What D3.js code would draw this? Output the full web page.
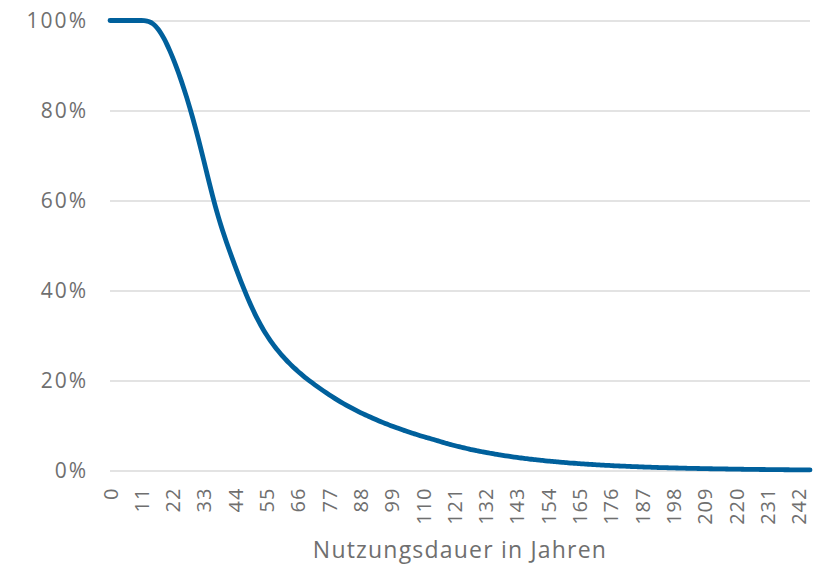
<!DOCTYPE html>
<html>
<head>
<meta charset="utf-8">
<script src="https://cdn.jsdelivr.net/npm/d3@7"></script>
<style>
  html, body { margin: 0; padding: 0; background: #ffffff; }
  svg { display: block; }
</style>
</head>
<body>
<svg id="chart" width="826" height="565"></svg>
<script>
// Nutzungsdauer in Jahren (categories 0 ... 246)
const years = d3.range(0, 247);

// Share still in use (%) for each year
const share = [
  100, 100, 100, 100, 100, 100, 100, 100, 100, 100, 100, 100,           // 0-11
  99.95, 99.85, 99.65, 99.3, 98.75, 98.0, 97.05, 95.95, 94.7,           // 12-20
  93.3, 91.8, 90.2, 88.5, 86.7, 84.8, 82.8, 80.7, 78.5, 76.2,           // 21-30
  73.8, 71.32, 68.77, 66.19, 63.63, 61.13, 58.75, 56.53, 54.45, 52.49,  // 31-40
  50.63, 48.84, 47.09, 45.37, 43.69, 42.05, 40.46, 38.92, 37.44, 36.03, // 41-50
  34.7, 33.45, 32.28, 31.19, 30.17, 29.21, 28.31, 27.46, 26.66, 25.9,   // 51-60
  25.18, 24.5, 23.85, 23.23, 22.64, 22.07, 21.52, 20.99, 20.48, 19.99,  // 61-70
  19.51, 19.04, 18.58, 18.13, 17.69, 17.26, 16.84, 16.43, 16.03, 15.64, // 71-80
  15.26, 14.89, 14.53, 14.18, 13.84, 13.51, 13.19, 12.88, 12.58, 12.29, // 81-90
  12.0, 11.72, 11.44, 11.17, 10.9, 10.64, 10.39, 10.14, 9.9, 9.66,      // 91-100
  9.43, 9.2, 8.98, 8.76, 8.55, 8.34, 8.14, 7.94, 7.74, 7.55,            // 101-110
  7.37, 7.19, 7.01, 6.83, 6.63, 6.44, 6.25, 6.07, 5.89, 5.72,           // 111-120
  5.55, 5.39, 5.24, 5.09, 4.94, 4.79, 4.66, 4.52, 4.39, 4.26,           // 121-130
  4.14, 4.02, 3.9, 3.79, 3.68, 3.57, 3.47, 3.37, 3.27, 3.17,            // 131-140
  3.08, 2.99, 2.9, 2.82, 2.74, 2.66, 2.58, 2.5, 2.43, 2.36,             // 141-150
  2.29, 2.23, 2.16, 2.1, 2.04, 1.98, 1.92, 1.86, 1.81, 1.76,            // 151-160
  1.7, 1.65, 1.61, 1.56, 1.51, 1.47, 1.43, 1.39, 1.35, 1.31,            // 161-170
  1.27, 1.23, 1.2, 1.16, 1.13, 1.1, 1.06, 1.03, 1.0, 0.97,              // 171-180
  0.95, 0.92, 0.89, 0.87, 0.84, 0.82, 0.79, 0.77, 0.75, 0.73,           // 181-190
  0.7, 0.68, 0.66, 0.64, 0.63, 0.61, 0.59, 0.57, 0.56, 0.54,            // 191-200
  0.52, 0.51, 0.49, 0.48, 0.47, 0.45, 0.44, 0.43, 0.41, 0.4,            // 201-210
  0.39, 0.38, 0.37, 0.36, 0.35, 0.34, 0.33, 0.32, 0.31, 0.3,            // 211-220
  0.29, 0.28, 0.27, 0.26, 0.25, 0.25, 0.24, 0.23, 0.22, 0.22,           // 221-230
  0.21, 0.2, 0.2, 0.19, 0.18, 0.18, 0.17, 0.17, 0.16, 0.16,             // 231-240
  0.15, 0.15, 0.14, 0.14, 0.13, 0.13                                    // 241-246
];

// Tick labels
const xTickLabels = [0, 11, 22, 33, 44, 55, 66, 77, 88, 99, 110, 121, 132, 143, 154, 165, 176, 187, 198, 209, 220, 231, 242];
const yTickValues = [0, 20, 40, 60, 80, 100];
const xTitle = "Nutzungsdauer in Jahren";

const svg = d3.select("#chart");
const plotLeft = 110, plotRight = 810, plotTop = 20.5, plotBottom = 470.5;
const font = "'Open Sans', 'Noto Sans', sans-serif";
const textColor = "#6f6f6f";

const x = d3.scalePoint().domain(years).range([plotLeft, plotRight]);
const y = d3.scaleLinear().domain([0, 100]).range([plotBottom, plotTop]);

// Gridlines + y labels
const yAxis = d3.axisLeft(y)
  .tickValues(yTickValues)
  .tickSize(-(plotRight - plotLeft))
  .tickPadding(22)
  .tickFormat(d => d + "%");

const gy = svg.append("g")
  .attr("transform", `translate(${plotLeft},0)`)
  .call(yAxis);
gy.select(".domain").remove();
gy.selectAll(".tick line").attr("stroke", "#dadada").attr("stroke-width", 1.3);
gy.selectAll(".tick text")
  .attr("fill", textColor)
  .attr("font-family", font)
  .attr("font-size", 21)
  .style("letter-spacing", "2px");

// X axis labels (rotated)
const xAxis = d3.axisBottom(x)
  .tickValues(xTickLabels)
  .tickSize(0)
  .tickPadding(0);
const gx = svg.append("g")
  .attr("transform", `translate(0,${plotBottom})`)
  .call(xAxis);
gx.select(".domain").remove();
gx.selectAll(".tick text")
  .attr("fill", textColor)
  .attr("font-family", font)
  .attr("font-size", 20)
  .style("letter-spacing", "1px")
  .attr("text-anchor", "end")
  .attr("dy", "0.35em")
  .attr("transform", "translate(0,17) rotate(-90)")
  .attr("y", 0)
  .attr("x", 0);

// Axis title
svg.append("text")
  .attr("x", (plotLeft + plotRight) / 2)
  .attr("y", 558)
  .attr("text-anchor", "middle")
  .attr("fill", textColor)
  .attr("font-family", font)
  .attr("font-size", 23)
  .style("letter-spacing", "1.2px")
  .text(xTitle);

// Line
const line = d3.line()
  .x((d, i) => x(years[i]))
  .y(d => y(d))
  .curve(d3.curveMonotoneX);

svg.append("path")
  .datum(share)
  .attr("d", line)
  .attr("fill", "none")
  .attr("stroke", "#00609c")
  .attr("stroke-width", 4.8)
  .attr("stroke-linejoin", "round")
  .attr("stroke-linecap", "round");
</script>
</body>
</html>
